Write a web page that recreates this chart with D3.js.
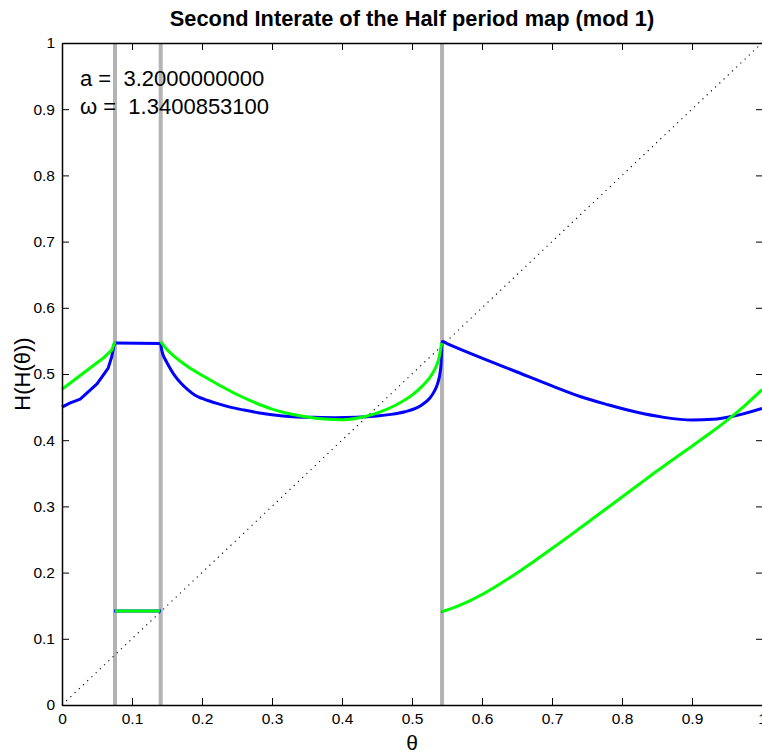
<!DOCTYPE html>
<html>
<head>
<meta charset="utf-8">
<script src="https://cdn.jsdelivr.net/npm/d3@7"></script>
<style>
  html, body { margin: 0; padding: 0; background: #fff; }
  svg { display: block; }
  text { font-family: "Liberation Sans", Arial, Helvetica, sans-serif; fill: #000; }
</style>
</head>
<body>
<svg id="chart" width="762" height="755"></svg>
<script>
// ---------- data ----------
const titleText = "Second Interate of the Half period map (mod 1)";
const xLabelText = "θ";
const yLabelText = "H(H(θ))";
const paramLines = ["a =  3.2000000000", "ω =  1.3400853100"];

const xTicks = [0, 0.1, 0.2, 0.3, 0.4, 0.5, 0.6, 0.7, 0.8, 0.9, 1];
const xTickLabels = ["0", "0.1", "0.2", "0.3", "0.4", "0.5", "0.6", "0.7", "0.8", "0.9", "1"];
const yTicks = [0, 0.1, 0.2, 0.3, 0.4, 0.5, 0.6, 0.7, 0.8, 0.9, 1];
const yTickLabels = ["0", "0.1", "0.2", "0.3", "0.4", "0.5", "0.6", "0.7", "0.8", "0.9", "1"];

// discontinuity markers (gray vertical lines)
const jumpTheta = [0.0757, 0.1410, 0.5429];

// blue branches
const blue1Theta = [0, 0.011, 0.026, 0.050, 0.066, 0.071, 0.0750];
const blue1H     = [0.450, 0.456, 0.462, 0.485, 0.509, 0.526, 0.547];
const blue2Theta = [0.0750, 0.1410];
const blue2H     = [0.547, 0.546];
const blue3Theta = [0.1410, 0.1420, 0.1440, 0.1470, 0.150, 0.160, 0.170, 0.180, 0.190, 0.200, 0.220, 0.240, 0.260, 0.280, 0.300, 0.330, 0.360, 0.390, 0.420, 0.450, 0.470, 0.490, 0.505, 0.515, 0.525, 0.532, 0.537, 0.540, 0.5415, 0.5427];
const blue3H     = [0.547, 0.539, 0.530, 0.523, 0.517, 0.499, 0.486, 0.476, 0.468, 0.463, 0.456, 0.450, 0.4455, 0.4415, 0.4385, 0.4355, 0.4345, 0.434, 0.4345, 0.4365, 0.439, 0.443, 0.448, 0.454, 0.463, 0.474, 0.487, 0.501, 0.515, 0.547];
const blue4Theta = [0.0745, 0.1415];
const blue4H     = [0.142, 0.142];
const blue5Theta = [0.5429, 0.5435, 0.550, 0.600, 0.650, 0.700, 0.740, 0.780, 0.820, 0.860, 0.900, 0.930, 0.960, 1.0];
const blue5H     = [0.547, 0.549, 0.546, 0.524, 0.503, 0.482, 0.466, 0.4535, 0.4425, 0.4345, 0.4305, 0.4315, 0.4365, 0.448];
const blue6Theta = [0.5422, 0.5436];
const blue6H     = [0.141, 0.141];

// green branches
const green1Theta = [0, 0.035, 0.060, 0.071, 0.0757];
const green1H     = [0.477, 0.505, 0.525, 0.536, 0.549];
const green2Theta = [0.0757, 0.1404];
const green2H     = [0.142, 0.142];
const green3Theta = [0.1410, 0.150, 0.160, 0.180, 0.200, 0.225, 0.250, 0.275, 0.300, 0.325, 0.350, 0.375, 0.400, 0.425, 0.450, 0.475, 0.500, 0.515, 0.525, 0.533, 0.538, 0.5424];
const green3H     = [0.549, 0.537, 0.527, 0.511, 0.498, 0.483, 0.469, 0.457, 0.447, 0.440, 0.435, 0.432, 0.431, 0.434, 0.441, 0.452, 0.468, 0.482, 0.494, 0.508, 0.522, 0.547];
const green4Theta = [0.5424, 0.560, 0.580, 0.600, 0.625, 0.650, 0.675, 0.700, 0.725, 0.750, 0.775, 0.800, 0.825, 0.850, 0.875, 0.900, 0.925, 0.950, 0.975, 1.0];
const green4H     = [0.141, 0.1472, 0.1562, 0.167, 0.1825, 0.1995, 0.2175, 0.2363, 0.2555, 0.275, 0.2945, 0.3141, 0.3338, 0.3535, 0.3725, 0.391, 0.4100, 0.4300, 0.4520, 0.4765];

// identity diagonal
const diagTheta = [0, 1];
const diagH = [0, 1];

// ---------- drawing ----------
const svg = d3.select("#chart");
const W = 762, H = 755;
const margin = { left: 62, right: 0, top: 43, bottom: 50 };
const x = d3.scaleLinear().domain([0, 1]).range([margin.left, W - margin.right]);
const y = d3.scaleLinear().domain([0, 1]).range([H - margin.bottom, margin.top]);

const zip = (a, b) => a.map((t, i) => [t, b[i]]);
const lineLin = d3.line().x(d => x(d[0])).y(d => y(d[1]));
const lineSmooth = d3.line().x(d => x(d[0])).y(d => y(d[1])).curve(d3.curveMonotoneX);

// gray jump lines
svg.append("g").selectAll("line").data(jumpTheta).join("line")
  .attr("x1", d => x(d)).attr("x2", d => x(d))
  .attr("y1", y(0)).attr("y2", y(1))
  .attr("stroke", "#b4b4b4").attr("stroke-width", 4);

// diagonal dotted
svg.append("path").datum(zip(diagTheta, diagH))
  .attr("d", lineLin).attr("fill", "none")
  .attr("stroke", "#000").attr("stroke-width", 1.1)
  .attr("stroke-dasharray", "1.2,4.6");

const blue = "#0000ff", green = "#00ff00", lw = 3;
function draw(th, v, color, smooth) {
  svg.append("path").datum(zip(th, v))
    .attr("d", smooth ? lineSmooth : lineLin)
    .attr("fill", "none").attr("stroke", color)
    .attr("stroke-width", lw).attr("stroke-linejoin", "round");
}
draw(blue1Theta, blue1H, blue, false);
draw(blue2Theta, blue2H, blue, false);
draw(blue3Theta, blue3H, blue, true);
draw(blue4Theta, blue4H, blue, false);
draw(blue5Theta, blue5H, blue, true);
draw(blue6Theta, blue6H, blue, false);
draw(green1Theta, green1H, green, false);
draw(green2Theta, green2H, green, false);
draw(green3Theta, green3H, green, true);
draw(green4Theta, green4H, green, true);

// axes (MATLAB style, inward ticks)
const tickFont = "15.5px";
function styleAxis(g) {
  g.select(".domain").attr("stroke", "#000").attr("stroke-width", 1.5);
  g.selectAll(".tick line").attr("stroke", "#000").attr("stroke-width", 1);
  g.selectAll(".tick text").style("font-size", tickFont)
    .style("font-family", '"Liberation Sans", Arial, sans-serif').attr("fill", "#000");
}
svg.append("g").attr("transform", `translate(0,${y(0)})`)
  .call(d3.axisBottom(x).tickValues(xTicks).tickFormat((d, i) => xTickLabels[i])
    .tickSizeInner(-7).tickSizeOuter(0).tickPadding(8))
  .call(styleAxis);
svg.append("g").attr("transform", `translate(${x(0)},0)`)
  .call(d3.axisLeft(y).tickValues(yTicks).tickFormat((d, i) => yTickLabels[i])
    .tickSizeInner(-7).tickSizeOuter(0).tickPadding(7))
  .call(styleAxis);
svg.append("g").attr("transform", `translate(0,${y(1)})`)
  .call(d3.axisTop(x).tickValues(xTicks).tickFormat("")
    .tickSizeInner(-7).tickSizeOuter(0))
  .call(styleAxis);
svg.append("g").attr("transform", `translate(${x(1) + 1},0)`)
  .call(d3.axisRight(y).tickValues(yTicks).tickFormat("")
    .tickSizeInner(-7).tickSizeOuter(0))
  .call(styleAxis);

// title
svg.append("text").attr("x", (x(0) + x(1)) / 2).attr("y", 26)
  .attr("text-anchor", "middle").style("font-size", "21.8px").style("font-weight", "bold")
  .text(titleText);

// axis labels
svg.append("text").attr("x", (x(0) + x(1)) / 2).attr("y", 750)
  .attr("text-anchor", "middle").style("font-size", "21px").text(xLabelText);
svg.append("text").attr("transform", `translate(30,${(y(0) + y(1)) / 2}) rotate(-90)`)
  .attr("text-anchor", "middle").style("font-size", "22px").text(yLabelText);

// parameter annotation
svg.append("g").selectAll("text").data(paramLines).join("text")
  .attr("x", 80).attr("y", (d, i) => 86 + i * 28)
  .attr("xml:space", "preserve").style("white-space", "pre")
  .style("font-size", "22px").text(d => d);
</script>
</body>
</html>
